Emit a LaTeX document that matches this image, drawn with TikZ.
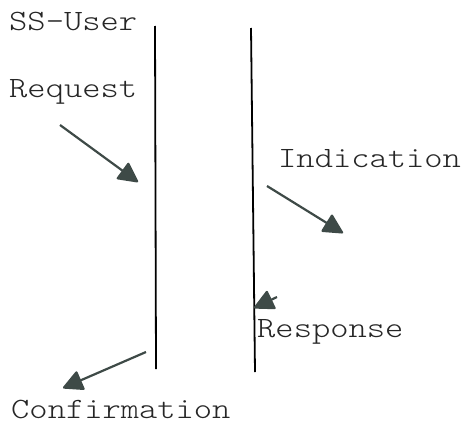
\documentclass[tikz,border=0pt]{standalone}
\usepackage{fontspec}
\newfontfamily\typefont{lmmonolt10-regular.otf}[FakeStretch=1.18]
\usetikzlibrary{arrows.meta}
\definecolor{ink}{HTML}{3E4A47}
\tikzset{
  lbl/.style={font=\typefont\fontsize{29.5}{30}\selectfont, inner sep=0pt, anchor=base west, text=black!85},
  lifeline/.style={line width=1.8pt, black},
  prim/.style={line width=2.2pt, ink, -{Triangle[length=21pt,width=21pt,round]}}
}
\begin{document}
\begin{tikzpicture}[x=1pt,y=-1pt]
\useasboundingbox (0,0) rectangle (465,423);
% the two service boundaries
\coordinate (Ltop) at (155,26);
\coordinate (Lbot) at (156,369);
\coordinate (Rtop) at (251,28);
\coordinate (Rbot) at (255,372);
\draw[lifeline] (Ltop) -- (Lbot);
\draw[lifeline] (Rtop) -- (Rbot);
% labels
\node[lbl] (user) at (9,30) {SS-User};
\node[lbl] (req) at (9,97) {Request};
\node[lbl] (ind) at (278,167) {Indication};
\node[lbl] (resp) at (257,337) {Response};
\node[lbl] (conf) at (11,418) {Confirmation};
% service primitives
\coordinate (reqA) at (60,125);
\coordinate (reqB) at (138,182);
\coordinate (indA) at (267,186);
\coordinate (indB) at (343,233);
\coordinate (rspA) at (277,297);
\coordinate (rspB) at (254,308);
\coordinate (cnfA) at (146,352);
\coordinate (cnfB) at (63,388);
\draw[prim] (reqA) -- (reqB);
\draw[prim] (indA) -- (indB);
\draw[prim] (rspA) -- (rspB);
\draw[prim] (cnfA) -- (cnfB);
\end{tikzpicture}
\end{document}
